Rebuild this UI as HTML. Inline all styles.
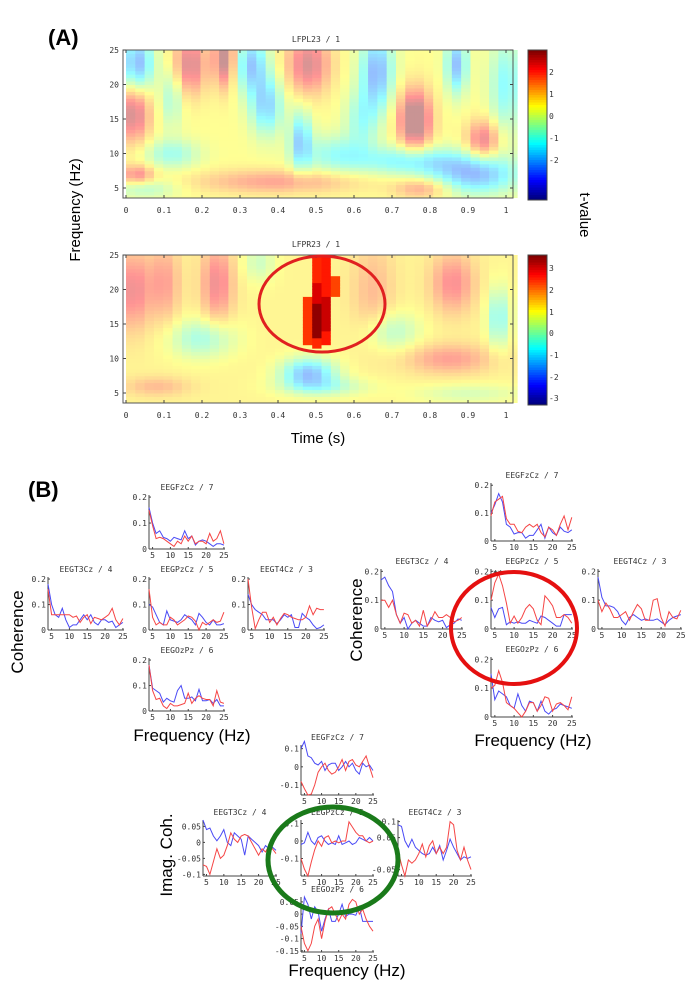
<!DOCTYPE html>
<html><head><meta charset="utf-8"><style>
body{margin:0;background:#fff;width:700px;height:985px;overflow:hidden}
svg{display:block}
.s{font-family:"DejaVu Sans Mono","Liberation Mono",monospace;font-size:8px;fill:#333}
.b{font-family:"Liberation Sans",sans-serif}
</style></head><body>
<svg id="sv" width="700" height="985" xmlns="http://www.w3.org/2000/svg">
<text x="48" y="45" class="b" font-size="22" font-weight="bold">(A)</text>
<text x="28" y="497" class="b" font-size="22" font-weight="bold">(B)</text>
<text class="b" font-size="15" transform="translate(80,210) rotate(-90)" text-anchor="middle">Frequency (Hz)</text>
<text class="b" font-size="15" transform="translate(580,215) rotate(90)" text-anchor="middle">t-value</text>
<text class="b" font-size="15" x="318" y="443" text-anchor="middle">Time (s)</text>
<text class="b" font-size="17" transform="translate(23,632) rotate(-90)" text-anchor="middle">Coherence</text>
<text class="b" font-size="17" transform="translate(362,620) rotate(-90)" text-anchor="middle">Coherence</text>
<text class="b" font-size="17" transform="translate(172,855) rotate(-90)" text-anchor="middle">Imag. Coh.</text>
<text class="b" font-size="17" x="192" y="741" text-anchor="middle">Frequency (Hz)</text>
<text class="b" font-size="17" x="533" y="746" text-anchor="middle">Frequency (Hz)</text>
<text class="b" font-size="17" x="347" y="976" text-anchor="middle">Frequency (Hz)</text>
<g id="g"></g>
<ellipse cx="322" cy="304" rx="63" ry="48" fill="none" stroke="#e02020" stroke-width="3"/>
<ellipse cx="514" cy="628" rx="63" ry="56" fill="none" stroke="#e51010" stroke-width="4"/>
<ellipse cx="333" cy="860" rx="65" ry="53" fill="none" stroke="#1a7a1a" stroke-width="5"/>
</svg>
<script>
const NS="http://www.w3.org/2000/svg",G=document.getElementById('g');
function el(t,a,txt){const e=document.createElementNS(NS,t);for(const k in a)e.setAttribute(k,a[k]);if(txt!=null)e.textContent=txt;G.appendChild(e);return e;}
function jet(v){v=Math.max(0,Math.min(1,v));const r=Math.max(0,Math.min(1,1.5-Math.abs(4*v-3))),g=Math.max(0,Math.min(1,1.5-Math.abs(4*v-2))),b=Math.max(0,Math.min(1,1.5-Math.abs(4*v-1)));return [r*255,g*255,b*255];}
function col(c,a){return `rgb(${Math.round(c[0]*a+255*(1-a))},${Math.round(c[1]*a+255*(1-a))},${Math.round(c[2]*a+255*(1-a))})`;}
function gs(t,f,b){return b[4]*Math.exp(-((t-b[0])**2)/(2*b[2]*b[2])-((f-b[1])**2)/(2*b[3]*b[3]));}
const B1=[[0.02,16,0.03,3,1.4],[0.17,23,0.03,3,1.3],[0.26,24,0.02,3,1.6],[0.48,23,0.04,3,1.3],[0.76,15,0.03,3,1.9],[0.94,12,0.03,2,1.2],[0.4,6,0.15,1.2,0.8],[0.78,5,0.05,1,0.8],[0.03,7,0.03,1,1.0],
[0.03,23,0.03,3,-1.6],[0.33,23,0.03,3,-1.4],[0.37,17,0.03,3,-1.3],[0.46,12,0.02,3,-1.3],[0.66,22,0.03,4,-1.6],[0.87,23,0.02,3,-1.5],[0.92,7,0.08,2,-1.5],[0.75,9,0.1,1.5,-1.1],[0.12,10,0.05,1.5,-0.8],[0.55,10,0.06,2,-0.8],[0.05,5,0.06,1,-0.6],[0.62,15,0.03,3,-0.8],[0.12,18,0.02,3,-0.7],[1.0,20,0.03,5,-1.0]];
const B2=[[0.02,20,0.03,4,1.2],[0.1,21,0.03,4,0.9],[0.24,21,0.03,4,1.2],[0.86,21,0.04,3,1.1],[0.85,10,0.08,1.5,0.9],[0.08,6,0.06,1,0.6],[0.65,20,0.04,5,0.6],
[0.2,13,0.06,2,-1.0],[0.48,8,0.05,1.5,-1.8],[0.52,6,0.08,1,-0.8],[0.35,24,0.03,2,-0.6],[0.7,14,0.05,2,-0.8],[0.98,16,0.02,3,-1.2],[0.9,5,0.1,1,-0.5]];
function heat(y0,bl,base,amp,vmax,sig){
 const x0=126,sx=380,sy=6.9;
 for(let i=0;i<42;i++){const t=i*0.0245;
  for(let f=3.5;f<25.2;f+=0.5){let v=base;for(const b of bl)v+=amp*gs(t+0.012,f+0.25,b);
   let a=0.42,c=jet((v+vmax)/(2*vmax));
   if(sig){const s=sig(t+0.012,f+0.25);if(s!=null){c=jet((s+vmax)/(2*vmax));a=1;}}
   const yy=y0+(25-f-0.5)*sy;const yt=Math.max(y0,yy);const yb=Math.min(y0+148,yy+sy*0.5+0.5);
   if(yb>yt)el('rect',{x:x0+t*sx,y:yt,width:sx*0.0245+0.6,height:yb-yt,fill:col(c,a)});}}
 el('rect',{x:123,y:y0,width:390,height:148,fill:'none',stroke:'#555','stroke-width':1});
 for(let i=0;i<=10;i++){const x=126+i*38;el('line',{x1:x,x2:x,y1:y0+148,y2:y0+145,stroke:'#444'});el('line',{x1:x,x2:x,y1:y0,y2:y0+3,stroke:'#444'});
  el('text',{x:x,y:y0+163,'text-anchor':'middle',class:'s','font-size':9},i==0?'0':i==10?'1':'0.'+i);}
 for(const f of [5,10,15,20,25]){const y=y0+(25-f)*sy;el('line',{x1:123,x2:126,y1:y,y2:y,stroke:'#444'});el('line',{x1:510,x2:513,y1:y,y2:y,stroke:'#444'});
  el('text',{x:119,y:y+3,'text-anchor':'end',class:'s','font-size':9},f);}
 for(let k=0;k<60;k++){el('rect',{x:528,y:y0+k*2.5,width:19,height:2.6,fill:col(jet(1-k/59),1)});}
 el('rect',{x:528,y:y0,width:19,height:150,fill:'none',stroke:'#444'});
}
heat(50,B1,0.6,1.25,2.4,null);
el('text',{x:316,y:42,'text-anchor':'middle',class:'s','font-size':9},'LFPL23 / 1');
[[2,72],[1,94],[0,116],[-1,138],[-2,160]].forEach(p=>el('text',{x:549,y:p[1]+3,class:'s','font-size':9},p[0]));
heat(255,B2,1.0,1.5,3.4,(t,f)=>{
 if(t>0.457&&t<0.48&&f>12&&f<19)return 2.2;
 if(t>=0.48&&t<0.504&&f>11.5&&f<25.2)return (f>13&&f<18)?3.3:(f>18&&f<21?2.8:2.3);
 if(t>=0.504&&t<0.528&&f>12&&f<25.2)return (f>14&&f<19)?2.9:2.4;
 if(t>=0.528&&t<0.55&&f>17&&f<22.5)return 2.3;
 if(t>=0.55&&t<0.575&&f>19&&f<22)return 2.1;return null;});
el('text',{x:316,y:247,'text-anchor':'middle',class:'s','font-size':9},'LFPR23 / 1');
[[3,268],[2,290],[1,312],[0,333],[-1,355],[-2,377],[-3,398]].forEach(p=>el('text',{x:549,y:p[1]+3,class:'s','font-size':9},p[0]));

function plot(L,T,w,h,ymin,ymax,yt,title,bl,rd){
 const X=f=>L+(f-4)*w/21.3,Y=v=>T+h-(v-ymin)/(ymax-ymin)*h;
 el('text',{x:L+w/2,y:T-5,'text-anchor':'middle',class:'s','font-size':7},title);
 el('line',{x1:L,x2:L,y1:T,y2:T+h,stroke:'#444'});el('line',{x1:L,x2:L+w,y1:T+h,y2:T+h,stroke:'#444'});
 for(const f of [5,10,15,20,25]){el('line',{x1:X(f),x2:X(f),y1:T+h,y2:T+h-2,stroke:'#444'});el('text',{x:X(f),y:T+h+9,'text-anchor':'middle',class:'s'},f);}
 for(const v of yt){el('line',{x1:L,x2:L+2,y1:Y(v),y2:Y(v),stroke:'#444'});el('text',{x:L-2,y:Y(v)+3,'text-anchor':'end',class:'s'},String(v));}
 [[bl,'#4a4af5'],[rd,'#f54545']].forEach(([d,c])=>el('polyline',{points:d.map((v,i)=>X(4+i).toFixed(1)+','+Y(v).toFixed(1)).join(' '),fill:'none',stroke:c,'stroke-width':1}));
}
const C=[0,0.1,0.2];
plot(149,495,76,54,0,0.208,C,'EEGFzCz / 7',[0.16,0.1,0.06,0.07,0.045,0.04,0.03,0.045,0.04,0.035,0.07,0.04,0.05,0.015,0.03,0.035,0.03,0.02,0.01,0.02,0.02,0.015],[0.15,0.09,0.04,0.045,0.04,0.03,0.02,0.01,0.03,0.02,0.05,0.03,0.05,0.02,0.03,0.03,0.02,0.06,0.03,0.04,0.07,0.02]);
plot(48,577,76,53,0,0.208,C,'EEGT3Cz / 4',[0.18,0.1,0.06,0.05,0.085,0.04,0.01,0.02,0.02,0.04,0.06,0.04,0.06,0.03,0.02,0.04,0.04,0.03,0.035,0.01,0.02,0.03],[0.16,0.06,0.06,0.06,0.06,0.06,0.06,0.05,0.055,0.03,0.05,0.06,0.025,0.05,0.045,0.04,0.05,0.06,0.085,0.04,0.02,0.045]);
plot(149,577,76,53,0,0.208,C,'EEGPzCz / 5',[0.1,0.09,0.06,0.03,0.02,0.075,0.04,0.035,0.03,0.04,0.06,0.05,0.04,0.02,0.065,0.05,0.03,0.02,0.04,0.02,0.02,0.025],[0.16,0.05,0.02,0.03,0.02,0.02,0.05,0.04,0.02,0.03,0.04,0.055,0.05,0.035,0.0,0.03,0.02,0.03,0.04,0.03,0.035,0.07]);
plot(248,577,77,53,0,0.208,C,'EEGT4Cz / 3',[0.14,0.1,0.08,0.07,0.06,0.04,0.04,0.04,0.025,0.04,0.06,0.05,0.06,0.01,0.01,0.065,0.05,0.04,0.02,0.005,0.01,0.02],[0.2,0.09,0.005,0.04,0.07,0.07,0.03,0.05,0.02,0.045,0.065,0.06,0.05,0.045,0.04,0.04,0.05,0.095,0.06,0.085,0.08,0.08]);
plot(149,658,76,53,0,0.208,C,'EEGOzPz / 6',[0.18,0.09,0.08,0.07,0.035,0.05,0.04,0.035,0.08,0.1,0.05,0.05,0.055,0.04,0.085,0.04,0.04,0.045,0.03,0.045,0.02,0.02],[0.18,0.08,0.045,0.05,0.02,0.01,0.03,0.02,0.02,0.025,0.03,0.07,0.03,0.05,0.06,0.05,0.045,0.045,0.02,0.08,0.035,0.03]);
plot(491,483,82,58,0,0.208,C,'EEGFzCz / 7',[0.1,0.13,0.17,0.14,0.06,0.05,0.025,0.03,0.03,0.01,0.02,0.02,0.04,0.06,0.01,0.05,0.03,0.02,0.05,0.035,0.03,0.04],[0.09,0.14,0.15,0.16,0.08,0.06,0.06,0.035,0.03,0.05,0.06,0.05,0.06,0.03,0.015,0.05,0.04,0.02,0.06,0.09,0.04,0.085]);
plot(381,569,82,60,0,0.208,C,'EEGT3Cz / 4',[0.17,0.18,0.15,0.13,0.05,0.02,0.04,0.0,0.02,0.03,0.02,0.01,0.01,0.04,0.03,0.025,0.03,0.005,0.015,0.02,0.035,0.03],[0.1,0.1,0.075,0.1,0.05,0.02,0.055,0.05,0.02,0.03,0.01,0.065,0.01,0.03,0.06,0.04,0.04,0.05,0.04,0.025,0.03,0.04]);
plot(491,569,82,60,0,0.208,C,'EEGPzCz / 5',[0.075,0.04,0.07,0.075,0.015,0.025,0.02,0.025,0.02,0.02,0.03,0.025,0.02,0.045,0.04,0.03,0.02,0.01,0.01,0.05,0.05,0.05],[0.1,0.16,0.19,0.15,0.09,0.02,0.045,0.02,0.04,0.07,0.085,0.07,0.03,0.015,0.115,0.1,0.08,0.04,0.04,0.05,0.04,0.02]);
el('text',{x:493,y:576,class:'s','font-size':8,'font-weight':'bold'},'**');
plot(598,569,84,60,0,0.208,C,'EEGT4Cz / 3',[0.18,0.11,0.08,0.08,0.075,0.06,0.03,0.015,0.04,0.05,0.04,0.03,0.035,0.03,0.03,0.035,0.025,0.015,0.03,0.04,0.045,0.05],[0.1,0.06,0.09,0.07,0.04,0.04,0.05,0.06,0.03,0.06,0.085,0.07,0.03,0.03,0.1,0.105,0.04,0.01,0.06,0.04,0.035,0.065]);
plot(491,657,82,60,0,0.208,C,'EEGOzPz / 6',[0.15,0.06,0.09,0.08,0.07,0.04,0.03,0.08,0.04,0.02,0.055,0.05,0.02,0.055,0.02,0.01,0.025,0.03,0.045,0.04,0.035,0.03],[0.1,0.11,0.16,0.12,0.05,0.04,0.03,0.015,0.0,0.02,0.05,0.05,0.02,0.04,0.07,0.065,0.02,0.045,0.05,0.04,0.025,0.07]);
plot(301,745,73,50,-0.155,0.12,[-0.1,0,0.1],'EEGFzCz / 7',[0.1,0.14,0.06,0.05,0.02,0.01,0.03,-0.02,0.01,0.02,0.02,-0.02,0.0,0.03,0.0,0.02,-0.02,-0.04,0.02,0.0,0.01,-0.02],[-0.08,-0.12,-0.155,-0.15,-0.1,-0.03,0.0,0.02,-0.02,-0.04,-0.03,0.0,0.04,-0.02,0.03,0.04,0.01,0.0,0.03,0.06,0.0,-0.06]);
plot(203,820,74,56,-0.105,0.07,[-0.1,-0.05,0,0.05],'EEGT3Cz / 4',[0.07,0.04,0.045,0.02,0.005,0.02,0.04,0.0,-0.01,0.03,0.02,0.01,-0.04,0.02,0.01,0.0,-0.01,-0.03,-0.01,-0.02,-0.015,-0.025],[-0.07,-0.075,-0.1,-0.06,-0.02,-0.05,-0.04,-0.01,0.03,0.01,0.0,0.02,0.025,0.02,0.0,-0.02,-0.04,-0.02,-0.03,-0.01,-0.02,-0.035]);
plot(301,820,73,56,-0.2,0.12,[-0.1,0,0.1],'EEGPzCz / 5',[-0.02,-0.01,0.05,0.0,-0.02,0.02,0.03,0.0,-0.02,-0.01,-0.02,0.03,-0.02,-0.01,0.0,-0.02,-0.01,0.02,0.01,0.0,0.02,0.0],[-0.1,-0.16,-0.2,-0.12,-0.05,0.0,-0.03,0.02,0.03,-0.01,0.0,-0.01,0.0,0.0,0.11,0.08,0.05,0.03,0.03,0.0,-0.01,0.0]);
plot(398,820,74,56,-0.07,0.105,[-0.05,0.05,0.1],'EEGT4Cz / 3',[0.09,0.085,0.04,0.02,0.045,0.02,0.01,0.0,-0.005,0.0,0.02,0.0,0.025,-0.02,0.01,0.045,0.02,0.0,-0.02,-0.01,-0.015,-0.01],[0.01,-0.035,-0.07,-0.02,-0.03,-0.02,0.0,0.03,-0.01,0.025,0.04,0.0,0.02,0.0,0.02,0.1,0.09,0.01,-0.02,0.02,-0.02,-0.05]);
plot(301,897,73,55,-0.155,0.07,[-0.15,-0.1,-0.05,0,0.05],'EEGOzPz / 6',[-0.08,0.07,0.04,-0.02,0.03,0.01,-0.07,-0.02,0.02,-0.03,-0.03,0.0,0.04,-0.01,0.0,0.0,-0.005,0.03,-0.03,-0.03,-0.03,-0.03],[-0.05,-0.12,-0.15,-0.12,-0.05,-0.02,-0.1,-0.03,0.02,0.03,0.0,-0.03,0.0,-0.02,0.04,0.06,0.05,0.0,0.02,-0.02,-0.05,-0.07]);
</script>
</body></html>
